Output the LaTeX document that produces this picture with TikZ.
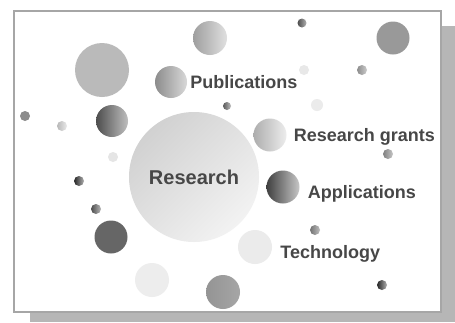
\documentclass[tikz,border=0pt]{standalone}
\usepackage{fontspec}
\setmainfont{Liberation Sans}
\usetikzlibrary{positioning}

\definecolor{framegray}{HTML}{A6A6A6}
\definecolor{shadowgray}{HTML}{B6B6B6}
\definecolor{textgray}{HTML}{474747}

\tikzset{
  ball/.style = {circle, inner sep=0pt, minimum size=#1},
  flat/.style = {fill=#1},
  shiny/.style 2 args = {left color=#1, right color=#2},
  lbl/.style = {inner sep=0pt, text depth=0pt, text=textgray,
                font=\fontsize{18}{20}\selectfont\bfseries}
}

\begin{document}
\begin{tikzpicture}[x=1pt, y=-1pt]
\useasboundingbox (0,0) rectangle (455,322);
% shadow and frame
\fill[shadowgray] (30,26) rectangle (455,322);
\draw[framegray, fill=white, line width=2.5pt] (14,11) rectangle (441,312);

% the big one
\node[ball=130pt, top color=black!18, bottom color=black!5, shading angle=45] (research) at (194,177) {};
\node[lbl, font=\fontsize{20}{22}\selectfont\bfseries] at (research) {Research};

% balls with labels
\node[ball=32pt, shiny={black!45}{black!15}] (pub) at (171,82) {};
\node[ball=33pt, shiny={black!32}{black!7}] (grants) at (270,135) {};
\node[ball=33pt, shiny={black!75}{black!22}] (apps) at (283,187) {};
\node[ball=34pt, flat=black!8] (tech) at (255,247) {};

\node[lbl, right=3pt of pub] {Publications};
\node[lbl, right=7pt of grants] {Research grants};
\node[lbl, right=8pt of apps, yshift=-5pt] {Applications};
\node[lbl, right=8pt of tech, yshift=-5pt] {Technology};

% other balls
\node[ball=54pt, flat=black!27] (bigleft) at (102,70) {};
\node[ball=34pt, shiny={black!38}{black!12}] (topmid) at (210,38) {};
\node[ball=33pt, flat=black!40] (topright) at (393,38) {};
\node[ball=32pt, shiny={black!70}{black!25}] (darkleft) at (112,121) {};
\node[ball=33pt, flat=black!60] (darklow) at (111,237) {};
\node[ball=34pt, flat=black!7] (lightlow) at (152,280) {};
\node[ball=34pt, shiny={black!42}{black!35}] (bottom) at (223,292) {};

% small dots
\node[ball=10pt, flat=black!45] (d1) at (25,116) {};
\node[ball=10pt, shiny={black!28}{black!8}] (d2) at (62,126) {};
\node[ball=8pt, shiny={black!65}{black!25}] (d3) at (227,106) {};
\node[ball=10pt, flat=black!10] (d4) at (113,157) {};
\node[ball=9pt, shiny={black!70}{black!30}] (d5) at (302,23) {};
\node[ball=10pt, flat=black!9] (d6) at (304,70) {};
\node[ball=10pt, shiny={black!45}{black!20}] (d7) at (362,70) {};
\node[ball=12pt, flat=black!8] (d8) at (317,105) {};
\node[ball=10pt, shiny={black!50}{black!22}] (d9) at (388,154) {};
\node[ball=10pt, shiny={black!85}{black!30}] (d10) at (79,181) {};
\node[ball=10pt, shiny={black!70}{black!28}] (d11) at (96,209) {};
\node[ball=10pt, shiny={black!55}{black!25}] (d12) at (315,230) {};
\node[ball=10pt, shiny={black!85}{black!30}] (d13) at (382,285) {};
\end{tikzpicture}
\end{document}
